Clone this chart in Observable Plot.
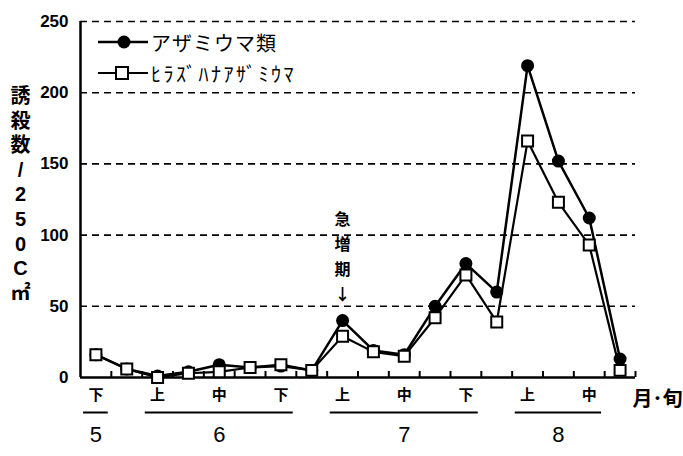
<!DOCTYPE html>
<html><head><meta charset="utf-8">
<script src="https://cdn.jsdelivr.net/npm/d3@7"></script>
<script src="https://cdn.jsdelivr.net/npm/@observablehq/plot@0.6"></script>
<style>
body{margin:0;background:#fff;}
#wrap{position:relative;width:683px;height:456px;}
#legend{position:absolute;left:0;top:0;}
</style></head><body><div id="wrap"></div>
<script>
// period index (half-decade slots, 5月下旬 .. 8月中旬)
const periodIndex = d3.range(1, 19);
const thripsTotal   = [16, 6, 1, 4, 9, 7, 8, 5, 40, 19, 16, 50, 80, 60, 219, 152, 112, 13];
const frankliniella = [16, 6, 0, 3, 4, 7, 9, 5, 29, 18, 15, 42, 72, 39, 166, 123, 93, 5];
const seriesNames = ["アザミウマ類", "ﾋﾗｽﾞﾊﾅｱｻﾞﾐｳﾏ"];
const junIdx = [1, 3, 5, 7, 9, 11, 13, 15, 17];
const junText = ["下", "上", "中", "下", "上", "中", "下", "上", "中"];
const monthNames = ["5", "6", "7", "8"];
const monthFrom = [1, 3, 9, 15];
const monthTo = [1, 7, 13, 17];
const monthAt = [1, 5, 11, 16];
const yTicks = [0, 50, 100, 150, 200, 250];
const gridTicks = [50, 100, 150, 200, 250];
const yLabel = "誘\n殺\n数\n/\n2\n5\n0\nC\n㎡";
const xUnitLabel = "月･旬";
const annotIdx = [9];
const annotText = ["急\n増\n期\n↓"];

const s1 = periodIndex.map((i, k) => ({i, v: thripsTotal[k]}));
const s2 = periodIndex.map((i, k) => ({i, v: frankliniella[k]}));
const jun = junIdx.map((i, k) => ({i, t: junText[k]}));
const months = monthNames.map((m, k) => ({m, from: monthFrom[k], to: monthTo[k], at: monthAt[k]}));
const annots = annotIdx.map((i, k) => ({i, t: annotText[k]}));

const cjk = "'Liberation Sans', 'Noto Sans CJK JP', sans-serif";
const jp = "'Noto Sans CJK JP', sans-serif";

const chart = Plot.plot({
  width: 683, height: 456,
  marginLeft: 80, marginRight: 48, marginTop: 21, marginBottom: 79,
  style: {fontFamily: cjk, color: "black", background: "white", overflow: "visible"},
  x: {type: "linear", domain: [0.5, 18.5], axis: null},
  y: {domain: [0, 250], axis: null},
  marks: [
    Plot.ruleY(gridTicks, {stroke: "black", strokeWidth: 1.6, strokeDasharray: "7,5"}),
    Plot.axisY({ticks: yTicks, tickSize: 0, tickPadding: 12, label: null, fontSize: 17, fontWeight: "bold"}),
    Plot.ruleX([0.5], {y1: 0, y2: 250, stroke: "black", strokeWidth: 2.5}),
    Plot.ruleY([0], {stroke: "black", strokeWidth: 2.5}),
    Plot.ruleX(d3.range(1.5, 19, 1), {y1: 0, y2: 0, insetTop: -6, stroke: "black", strokeWidth: 2}),
    Plot.line(s1, {x: "i", y: "v", stroke: "black", strokeWidth: 2.5}),
    Plot.line(s2, {x: "i", y: "v", stroke: "black", strokeWidth: 2.2}),
    Plot.dot(s1, {x: "i", y: "v", r: 6.5, fill: "black"}),
    Plot.dot(s2, {x: "i", y: "v", symbol: "square", r: 6.2, fill: "white", stroke: "black", strokeWidth: 2}),
    Plot.text(jun, {x: "i", text: "t", frameAnchor: "bottom", dy: 22, fontSize: 15, fontWeight: "bold", fontFamily: jp}),
    Plot.ruleY(months, {x1: d => d.from - 0.4, x2: d => d.to + 0.4, y: () => 0, dy: 35, stroke: "black", strokeWidth: 2}),
    Plot.text(months, {x: "at", text: "m", frameAnchor: "bottom", dy: 64, fontSize: 22, fontFamily: "'Liberation Sans Narrow', 'Liberation Sans', sans-serif"}),
    Plot.text([xUnitLabel], {frameAnchor: "bottom-right", textAnchor: "start", dx: -3, dy: 28, fontSize: 20, fontWeight: "bold", fontFamily: jp}),
    Plot.text([yLabel], {frameAnchor: "left", textAnchor: "middle", dx: -60, dy: -6, lineHeight: 1.23, fontSize: 20, fontWeight: "bold"}),
    Plot.text(annots, {x: "i", y: d => thripsTotal[d.i - 1], text: "t", lineAnchor: "bottom", dy: -21, fontSize: 16, fontWeight: "bold", lineHeight: 1.55, fontFamily: jp})
  ]
});
const wrap = document.getElementById("wrap");
wrap.appendChild(chart);

// legend overlay
const leg = d3.select(wrap).append("svg").attr("id", "legend").attr("width", 683).attr("height", 100);
const rows = [{y: 42, name: seriesNames[0], sym: "circle", lw: 2.5, ls: 1}, {y: 73, name: seriesNames[1], sym: "square", lw: 1.8, ls: 2.5}];
rows.forEach(r => {
  leg.append("line").attr("x1", 98).attr("x2", 148).attr("y1", r.y).attr("y2", r.y).attr("stroke", "black").attr("stroke-width", r.lw);
  if (r.sym === "circle") leg.append("circle").attr("cx", 124).attr("cy", r.y).attr("r", 6.5).attr("fill", "black");
  else leg.append("rect").attr("x", 116).attr("y", r.y - 6).attr("width", 12).attr("height", 12).attr("fill", "white").attr("stroke", "black").attr("stroke-width", 2);
  leg.append("text").attr("x", 151).attr("y", r.y).attr("dominant-baseline", "central")
    .attr("font-family", jp).attr("font-size", 20).attr("letter-spacing", r.ls).text(r.name);
});
</script></body></html>
